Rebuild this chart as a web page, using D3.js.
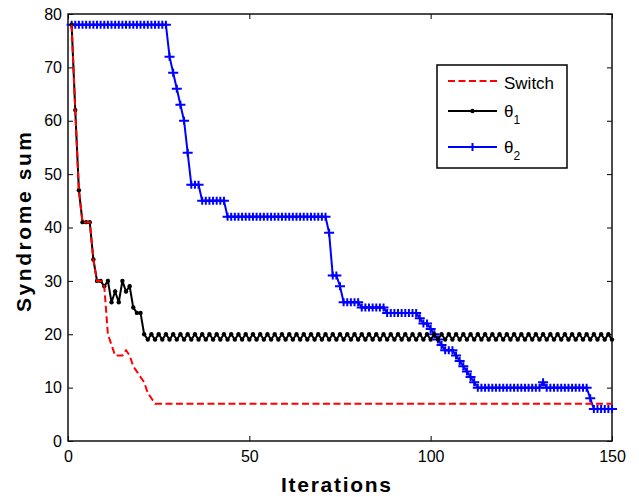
<!DOCTYPE html>
<html>
<head>
<meta charset="utf-8">
<script src="https://cdnjs.cloudflare.com/ajax/libs/d3/7.8.5/d3.min.js"></script>
<style>
  body { margin: 0; background: #fff; }
  svg { display: block; font-family: "Liberation Sans", Arial, sans-serif; }
</style>
</head>
<body>
<svg id="chart" width="639" height="497"></svg>
<script>
// iteration index 1..150
var iterations = d3.range(1, 151);

var switchVals = [
  78,62,47,41,41,41,34,30,30,29,20,18,16,16,16,17,16,14,13,12,11,9,8,7,
  7,7,7,7,7,7,7,7,7,7,7,7,7,7,7,7,7,7,7,7,7,
  7,7,7,7,7,7,7,7,7,7,7,7,7,7,7,7,7,7,7,7,7,
  7,7,7,7,7,7,7,7,7,7,7,7,7,7,7,7,7,7,7,7,7,
  7,7,7,7,7,7,7,7,7,7,7,7,7,7,7,7,7,7,7,7,7,
  7,7,7,7,7,7,7,7,7,7,7,7,7,7,7,7,7,7,7,7,7,
  7,7,7,7,7,7,7,7,7,7,7,7,7,7,7,7,7,7,7,7,7
];

var theta1Vals = [
  78,62,47,41,41,41,34,30,30,29,30,26,28,26,30,28,29,25,24,24,20,19,
  20,19,20,19,20,19,20,19,20,19,20,19,20,19,20,19,20,19,20,19,20,19,
  20,19,20,19,20,19,20,19,20,19,20,19,20,19,20,19,20,19,20,19,20,19,
  20,19,20,19,20,19,20,19,20,19,20,19,20,19,20,19,20,19,20,19,20,19,
  20,19,20,19,20,19,20,19,20,19,20,19,20,19,20,19,20,19,20,19,20,19,
  20,19,20,19,20,19,20,19,20,19,20,19,20,19,20,19,20,19,20,19,20,19,
  20,19,20,19,20,19,20,19,20,19,20,19,20,19,20,19,20,19,20,19,20,19,
  20,19,20,19,20,19,20,19
];

var theta2Vals = [
  78,78,78,78,78,78,78,78,78,78,78,78,78,78,78,78,78,78,78,78,78,78,78,78,78,78,78,
  72,69,66,63,60,54,48,48,48,
  45,45,45,45,45,45,45,
  42,42,42,42,42,42,42,42,42,42,42,42,42,42,42,42,42,42,42,42,42,42,42,42,42,42,42,42,
  39,31,31,29,
  26,26,26,26,26,
  25,25,25,25,25,25,25,
  24,24,24,24,24,24,24,24,24,
  23,22,22,21,20,19,18,17,17,17,16,15,14,13,12,11,
  10,10,10,10,10,10,10,10,10,10,10,10,10,10,10,10,10,10,
  11,
  10,10,10,10,10,10,10,10,10,10,10,10,
  8,
  6,6,6,6,6,6
];

var xTicks = [0, 50, 100, 150];
var yTicks = [0, 10, 20, 30, 40, 50, 60, 70, 80];

var svg = d3.select("#chart");
var plotLeft = 68, plotRight = 612, plotTop = 14, plotBottom = 441;

var x = d3.scaleLinear().domain([0, 150]).range([plotLeft, plotRight]);
var y = d3.scaleLinear().domain([0, 80]).range([plotBottom, plotTop]);

// axes, ticks pointing inward on all four sides
svg.append("g")
  .attr("transform", "translate(0," + plotBottom + ")")
  .call(d3.axisBottom(x).tickValues(xTicks).tickSize(-5).tickPadding(10));
svg.append("g")
  .attr("transform", "translate(" + plotLeft + ",0)")
  .call(d3.axisLeft(y).tickValues(yTicks).tickSize(-5).tickPadding(6));
svg.append("g")
  .attr("transform", "translate(0," + plotTop + ")")
  .call(d3.axisTop(x).tickValues(xTicks).tickSize(-5).tickFormat(""));
svg.append("g")
  .attr("transform", "translate(" + plotRight + ",0)")
  .call(d3.axisRight(y).tickValues(yTicks).tickSize(-5).tickFormat(""));

svg.selectAll(".domain").remove();
svg.selectAll(".tick line").attr("stroke", "#000").attr("stroke-width", 1);
svg.selectAll(".tick text")
  .attr("fill", "#000")
  .style("font-size", "16px")
  .style("font-family", "'Liberation Sans', Arial, sans-serif");

svg.append("rect")
  .attr("x", plotLeft).attr("y", plotTop)
  .attr("width", plotRight - plotLeft).attr("height", plotBottom - plotTop)
  .attr("fill", "none")
  .attr("stroke", "#111")
  .attr("stroke-width", 1.5);

// axis titles
svg.append("text")
  .attr("x", 336)
  .attr("y", 492)
  .attr("text-anchor", "middle")
  .attr("textLength", 110)
  .attr("lengthAdjust", "spacing")
  .style("font-size", "21px")
  .style("font-weight", "bold")
  .text("Iterations");

svg.append("text")
  .attr("transform", "translate(31,222) rotate(-90)")
  .attr("text-anchor", "middle")
  .attr("textLength", 180)
  .attr("lengthAdjust", "spacing")
  .style("font-size", "21px")
  .style("font-weight", "bold")
  .text("Syndrome sum");

function series(vals) {
  return iterations.map(function (it, i) { return {it: it, v: vals[i]}; });
}

var line = d3.line()
  .x(function (d) { return x(d.it); })
  .y(function (d) { return y(d.v); });

var plus = "M-5,0H5M0,-4V4";

// theta2 (blue, plus markers)
var t2 = series(theta2Vals);
svg.append("path")
  .attr("d", line(t2))
  .attr("fill", "none")
  .attr("stroke", "#0000ff")
  .attr("stroke-width", 2);
svg.append("g").selectAll("path")
  .data(t2).enter()
  .append("path")
  .attr("transform", function (d) { return "translate(" + x(d.it) + "," + y(d.v) + ")"; })
  .attr("d", plus)
  .attr("stroke", "#0000ff")
  .attr("stroke-width", 2);

// theta1 (black, dot markers)
var t1 = series(theta1Vals);
svg.append("path")
  .attr("d", line(t1))
  .attr("fill", "none")
  .attr("stroke", "#000")
  .attr("stroke-width", 2);
svg.append("g").selectAll("circle")
  .data(t1).enter()
  .append("circle")
  .attr("cx", function (d) { return x(d.it); })
  .attr("cy", function (d) { return y(d.v); })
  .attr("r", 2.2)
  .attr("fill", "#000");

// switch (red dashed)
svg.append("path")
  .attr("d", line(series(switchVals)))
  .attr("fill", "none")
  .attr("stroke", "#ff0000")
  .attr("stroke-width", 2)
  .attr("stroke-dasharray", "7,3.5");

// legend
var lg = svg.append("g");
lg.append("rect")
  .attr("x", 437).attr("y", 65)
  .attr("width", 130).attr("height", 103)
  .attr("fill", "#fff")
  .attr("stroke", "#000")
  .attr("stroke-width", 1.5);

lg.append("line")
  .attr("x1", 448).attr("x2", 497).attr("y1", 81).attr("y2", 81)
  .attr("stroke", "#ff0000").attr("stroke-width", 2).attr("stroke-dasharray", "7,3.5");
lg.append("text").attr("x", 504).attr("y", 88.5)
  .style("font-size", "17px").text("Switch");

lg.append("line")
  .attr("x1", 448).attr("x2", 497).attr("y1", 111).attr("y2", 111)
  .attr("stroke", "#000").attr("stroke-width", 2);
lg.append("circle").attr("cx", 472.5).attr("cy", 111).attr("r", 2.2).attr("fill", "#000");
var l1 = lg.append("text").attr("x", 504).attr("y", 117).style("font-size", "17px");
l1.append("tspan").text("θ");
l1.append("tspan").attr("dy", 7).style("font-size", "12px").text("1");

lg.append("line")
  .attr("x1", 448).attr("x2", 497).attr("y1", 147).attr("y2", 147)
  .attr("stroke", "#0000ff").attr("stroke-width", 2);
lg.append("path").attr("transform", "translate(472.5,147)").attr("d", plus)
  .attr("stroke", "#0000ff").attr("stroke-width", 2);
var l2 = lg.append("text").attr("x", 504).attr("y", 153).style("font-size", "17px");
l2.append("tspan").text("θ");
l2.append("tspan").attr("dy", 7).style("font-size", "12px").text("2");
</script>
</body>
</html>
